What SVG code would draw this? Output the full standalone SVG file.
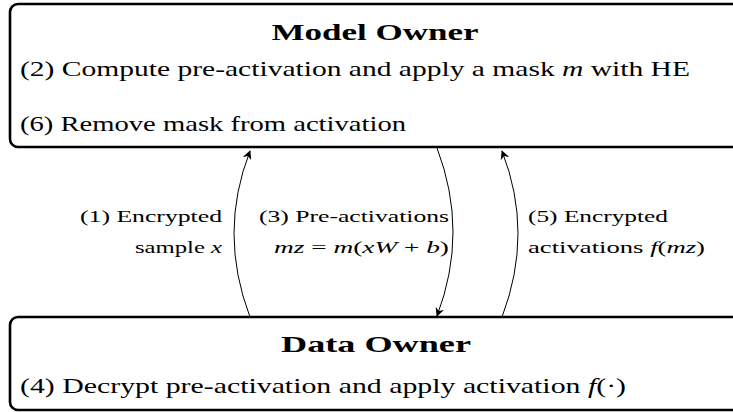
<svg xmlns="http://www.w3.org/2000/svg" width="733" height="412" viewBox="0 0 733 412">
<style>
.box{fill:#fff;stroke:#000;stroke-width:2.6}
.t{font-family:"Liberation Serif","DejaVu Serif",serif;fill:#000}
.title{font-size:24px;font-weight:bold}
.body{font-size:21px}
.lab{font-size:17px}
.i{font-style:italic}
.conn{fill:none;stroke:#000;stroke-width:1}
</style>
<defs>
<marker id="ah" viewBox="0 0 10 10" refX="9" refY="5" markerWidth="9" markerHeight="9" markerUnits="userSpaceOnUse" orient="auto">
<path d="M0,0 L10,5 L0,10 L3,5 Z" fill="#000"/>
</marker>
</defs>
<g id="model-owner">
<rect class="box" x="10" y="4" width="740" height="143" rx="8"/>
<text class="t title" x="375" y="40" text-anchor="middle" textLength="207" lengthAdjust="spacingAndGlyphs">Model Owner</text>
<text class="t body" x="20" y="76" textLength="670" lengthAdjust="spacingAndGlyphs">(2) Compute pre-activation and apply a mask <tspan class="i">m</tspan> with HE</text>
<text class="t body" x="20" y="131" textLength="386" lengthAdjust="spacingAndGlyphs">(6) Remove mask from activation</text>
</g>
<g id="data-owner">
<rect class="box" x="10" y="317" width="740" height="93" rx="8"/>
<text class="t title" x="376" y="352" text-anchor="middle" textLength="190" lengthAdjust="spacingAndGlyphs">Data Owner</text>
<text class="t body" x="20" y="393" textLength="606" lengthAdjust="spacingAndGlyphs">(4) Decrypt pre-activation and apply activation <tspan class="i">f</tspan>(·)</text>
</g>
<g id="connectors">
<path class="conn" d="M250,317 Q218,233 250,151" marker-end="url(#ah)"/>
<path class="conn" d="M437,148 Q469,232 437,316" marker-end="url(#ah)"/>
<path class="conn" d="M502,317 Q534,233 502,151" marker-end="url(#ah)"/>
</g>
<g id="labels">
<text class="t lab" x="222" y="222" text-anchor="end" textLength="142" lengthAdjust="spacingAndGlyphs">(1) Encrypted</text>
<text class="t lab" x="222" y="253" text-anchor="end" textLength="87" lengthAdjust="spacingAndGlyphs">sample <tspan class="i">x</tspan></text>
<text class="t lab" x="259" y="222" textLength="190" lengthAdjust="spacingAndGlyphs">(3) Pre-activations</text>
<text class="t lab" x="449" y="253" text-anchor="end" textLength="175" lengthAdjust="spacingAndGlyphs"><tspan class="i">mz</tspan> = <tspan class="i">m</tspan>(<tspan class="i">xW</tspan> + <tspan class="i">b</tspan>)</text>
<text class="t lab" x="528" y="222" textLength="140" lengthAdjust="spacingAndGlyphs">(5) Encrypted</text>
<text class="t lab" x="528" y="253" textLength="177" lengthAdjust="spacingAndGlyphs">activations <tspan class="i">f</tspan>(<tspan class="i">mz</tspan>)</text>
</g>
</svg>
